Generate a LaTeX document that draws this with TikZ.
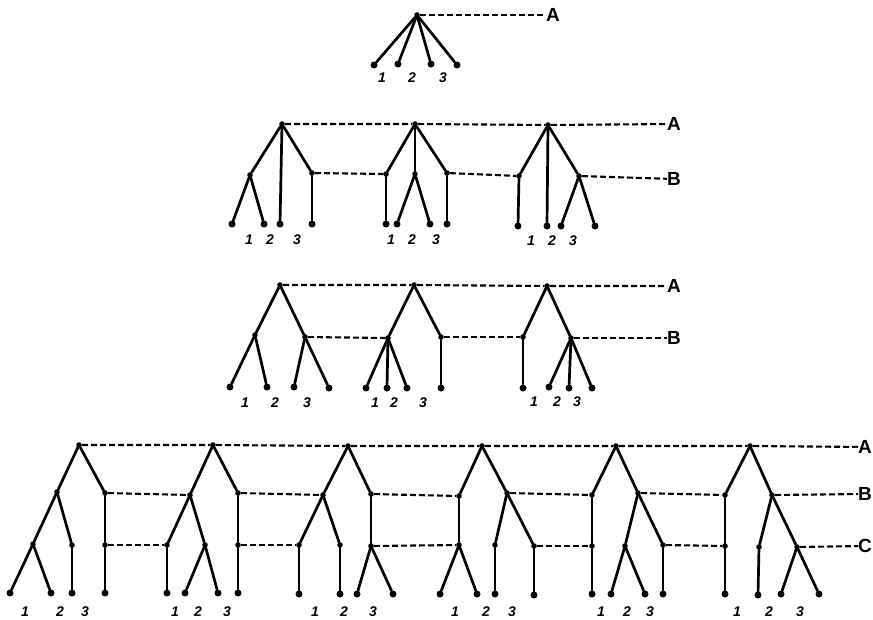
\documentclass[tikz,border=0pt]{standalone}
\usepackage{fontspec}
\setmainfont{Liberation Sans}
\begin{document}
\begin{tikzpicture}[x=1pt,y=-1pt,
  edge/.style={line width=2.7pt,line cap=round},
  dsh/.style={line width=2.1pt,dash pattern=on 6pt off 3pt},
  leaf/.style={circle,fill=black,inner sep=0pt,minimum size=7pt},
  inner/.style={circle,fill=black,inner sep=0pt,minimum size=5.6pt},
  num/.style={font=\bfseries\itshape\fontsize{14}{14}\selectfont,inner sep=0pt},
  lvl/.style={font=\bfseries\fontsize{19}{19}\selectfont,inner sep=0pt,anchor=west}]
\useasboundingbox (0,0) rectangle (873,619);
\fill[white] (0,0) rectangle (873,619);

% ---------------- Panel 1 ----------------
\node[inner] (r1) at (417,15) {};
\node[leaf] (p1a) at (374,65) {};
\node[leaf] (p1b) at (398,64) {};
\node[leaf] (p1c) at (431,64) {};
\node[leaf] (p1d) at (457,65) {};
\foreach \l in {p1a,p1b,p1c,p1d} \draw[edge] (r1) -- (\l);
\node[num] (n11) at (382,78) {1};
\node[num] (n12) at (412,78) {2};
\node[num] (n13) at (443,78) {3};
\node[lvl] (A1) at (546,15) {A};
\draw[dsh] (r1) -- (A1);

% ---------------- Panel 2 ----------------
\node[inner] (q1) at (282,124) {};
\node[inner] (q1L) at (250,175) {};
\node[inner] (q1R) at (312,173) {};
\node[leaf] (q1La) at (232,224) {};
\node[leaf] (q1Lb) at (264,224) {};
\node[leaf] (q1M) at (280,224) {};
\node[leaf] (q1Ra) at (312,224) {};
\draw[edge] (q1) -- (q1L); \draw[edge] (q1) -- (q1M); \draw[edge] (q1) -- (q1R);
\draw[edge] (q1L) -- (q1La); \draw[edge] (q1L) -- (q1Lb); \draw[edge] (q1R) -- (q1Ra);

\node[inner] (q2) at (415,124) {};
\node[inner] (q2L) at (386,174) {};
\node[inner] (q2M) at (415,174) {};
\node[inner] (q2R) at (447,173) {};
\node[leaf] (q2La) at (386,224) {};
\node[leaf] (q2Ma) at (397,224) {};
\node[leaf] (q2Mb) at (430,224) {};
\node[leaf] (q2Ra) at (447,224) {};
\draw[edge] (q2) -- (q2L); \draw[edge] (q2) -- (q2M); \draw[edge] (q2) -- (q2R);
\draw[edge] (q2L) -- (q2La); \draw[edge] (q2M) -- (q2Ma); \draw[edge] (q2M) -- (q2Mb); \draw[edge] (q2R) -- (q2Ra);

\node[inner] (q3) at (548,125) {};
\node[inner] (q3L) at (519,176) {};
\node[inner] (q3R) at (579,176) {};
\node[leaf] (q3La) at (518,226) {};
\node[leaf] (q3M) at (547,226) {};
\node[leaf] (q3Ra) at (561,226) {};
\node[leaf] (q3Rb) at (595,226) {};
\draw[edge] (q3) -- (q3L); \draw[edge] (q3) -- (q3M); \draw[edge] (q3) -- (q3R);
\draw[edge] (q3L) -- (q3La); \draw[edge] (q3R) -- (q3Ra); \draw[edge] (q3R) -- (q3Rb);

\node[num] (n21) at (249,240) {1};
\node[num] (n22) at (270,240) {2};
\node[num] (n23) at (297,240) {3};
\node[num] (n24) at (391,240) {1};
\node[num] (n25) at (412,240) {2};
\node[num] (n26) at (436,240) {3};
\node[num] (n27) at (531,241) {1};
\node[num] (n28) at (552,241) {2};
\node[num] (n29) at (573,241) {3};

\node[lvl] (A2) at (667,124) {A};
\node[lvl] (B2) at (667,179) {B};
\draw[dsh] (q1) -- (q2) -- (q3) -- (A2);
\draw[dsh] (q1R) -- (q2L);
\draw[dsh] (q2R) -- (q3L);
\draw[dsh] (q3R) -- (B2);

% ---------------- Panel 3 ----------------
\node[inner] (s1) at (280,285) {};
\node[inner] (s1L) at (255,335) {};
\node[inner] (s1R) at (305,337) {};
\node[leaf] (s1La) at (230,387) {};
\node[leaf] (s1Lb) at (267,387) {};
\node[leaf] (s1Ra) at (294,387) {};
\node[leaf] (s1Rb) at (329,388) {};
\draw[edge] (s1) -- (s1L); \draw[edge] (s1) -- (s1R);
\draw[edge] (s1L) -- (s1La); \draw[edge] (s1L) -- (s1Lb);
\draw[edge] (s1R) -- (s1Ra); \draw[edge] (s1R) -- (s1Rb);

\node[inner] (s2) at (414,285) {};
\node[inner] (s2L) at (388,338) {};
\node[inner] (s2R) at (441,337) {};
\node[leaf] (s2La) at (366,388) {};
\node[leaf] (s2Lb) at (387,388) {};
\node[leaf] (s2Lc) at (407,388) {};
\node[leaf] (s2Ra) at (441,388) {};
\draw[edge] (s2) -- (s2L); \draw[edge] (s2) -- (s2R);
\draw[edge] (s2L) -- (s2La); \draw[edge] (s2L) -- (s2Lb); \draw[edge] (s2L) -- (s2Lc);
\draw[edge] (s2R) -- (s2Ra);

\node[inner] (s3) at (547,286) {};
\node[inner] (s3L) at (523,337) {};
\node[inner] (s3R) at (571,338) {};
\node[leaf] (s3La) at (523,388) {};
\node[leaf] (s3Ra) at (549,387) {};
\node[leaf] (s3Rb) at (569,388) {};
\node[leaf] (s3Rc) at (592,388) {};
\draw[edge] (s3) -- (s3L); \draw[edge] (s3) -- (s3R);
\draw[edge] (s3L) -- (s3La);
\draw[edge] (s3R) -- (s3Ra); \draw[edge] (s3R) -- (s3Rb); \draw[edge] (s3R) -- (s3Rc);

\node[num] (n31) at (245,403) {1};
\node[num] (n32) at (275,403) {2};
\node[num] (n33) at (307,403) {3};
\node[num] (n34) at (375,403) {1};
\node[num] (n35) at (394,403) {2};
\node[num] (n36) at (423,403) {3};
\node[num] (n37) at (534,402) {1};
\node[num] (n38) at (557,402) {2};
\node[num] (n39) at (577,402) {3};

\node[lvl] (A3) at (667,286) {A};
\node[lvl] (B3) at (667,338) {B};
\draw[dsh] (s1) -- (s2) -- (s3) -- (A3);
\draw[dsh] (s1R) -- (s2L);
\draw[dsh] (s2R) -- (s3L);
\draw[dsh] (s3R) -- (B3);

% ---------------- Panel 4 ----------------
% tree 1
\node[inner] (u1) at (79,445) {};
\node[inner] (u1L) at (57,492) {};
\node[inner] (u1R) at (105,493) {};
\node[inner] (u1LL) at (33,544) {};
\node[inner] (u1LR) at (72,545) {};
\node[inner] (u1RC) at (105,545) {};
\node[leaf] (u1a) at (10,593) {};
\node[leaf] (u1b) at (51,593) {};
\node[leaf] (u1c) at (72,593) {};
\node[leaf] (u1d) at (105,593) {};
\draw[edge] (u1) -- (u1L); \draw[edge] (u1) -- (u1R);
\draw[edge] (u1L) -- (u1LL); \draw[edge] (u1L) -- (u1LR); \draw[edge] (u1R) -- (u1RC);
\draw[edge] (u1LL) -- (u1a); \draw[edge] (u1LL) -- (u1b); \draw[edge] (u1LR) -- (u1c); \draw[edge] (u1RC) -- (u1d);
% tree 2
\node[inner] (u2) at (213,445) {};
\node[inner] (u2L) at (190,495) {};
\node[inner] (u2R) at (238,493) {};
\node[inner] (u2LL) at (167,545) {};
\node[inner] (u2LR) at (205,545) {};
\node[inner] (u2RC) at (238,545) {};
\node[leaf] (u2a) at (167,593) {};
\node[leaf] (u2b) at (185,593) {};
\node[leaf] (u2c) at (218,593) {};
\node[leaf] (u2d) at (238,593) {};
\draw[edge] (u2) -- (u2L); \draw[edge] (u2) -- (u2R);
\draw[edge] (u2L) -- (u2LL); \draw[edge] (u2L) -- (u2LR); \draw[edge] (u2R) -- (u2RC);
\draw[edge] (u2LL) -- (u2a); \draw[edge] (u2LR) -- (u2b); \draw[edge] (u2LR) -- (u2c); \draw[edge] (u2RC) -- (u2d);
% tree 3
\node[inner] (u3) at (348,446) {};
\node[inner] (u3L) at (323,495) {};
\node[inner] (u3R) at (371,494) {};
\node[inner] (u3LL) at (299,545) {};
\node[inner] (u3LR) at (340,545) {};
\node[inner] (u3RC) at (371,546) {};
\node[leaf] (u3a) at (299,594) {};
\node[leaf] (u3b) at (340,594) {};
\node[leaf] (u3c) at (357,594) {};
\node[leaf] (u3d) at (393,594) {};
\draw[edge] (u3) -- (u3L); \draw[edge] (u3) -- (u3R);
\draw[edge] (u3L) -- (u3LL); \draw[edge] (u3L) -- (u3LR); \draw[edge] (u3R) -- (u3RC);
\draw[edge] (u3LL) -- (u3a); \draw[edge] (u3LR) -- (u3b); \draw[edge] (u3RC) -- (u3c); \draw[edge] (u3RC) -- (u3d);
% tree 4
\node[inner] (u4) at (482,446) {};
\node[inner] (u4L) at (459,496) {};
\node[inner] (u4R) at (507,493) {};
\node[inner] (u4LC) at (459,545) {};
\node[inner] (u4RL) at (495,545) {};
\node[inner] (u4RR) at (534,546) {};
\node[leaf] (u4a) at (440,594) {};
\node[leaf] (u4b) at (477,594) {};
\node[leaf] (u4c) at (495,594) {};
\node[leaf] (u4d) at (534,595) {};
\draw[edge] (u4) -- (u4L); \draw[edge] (u4) -- (u4R);
\draw[edge] (u4L) -- (u4LC); \draw[edge] (u4R) -- (u4RL); \draw[edge] (u4R) -- (u4RR);
\draw[edge] (u4LC) -- (u4a); \draw[edge] (u4LC) -- (u4b); \draw[edge] (u4RL) -- (u4c); \draw[edge] (u4RR) -- (u4d);
% tree 5
\node[inner] (u5) at (616,446) {};
\node[inner] (u5L) at (592,495) {};
\node[inner] (u5R) at (638,493) {};
\node[inner] (u5LC) at (592,546) {};
\node[inner] (u5RL) at (625,546) {};
\node[inner] (u5RR) at (663,545) {};
\node[leaf] (u5a) at (592,594) {};
\node[leaf] (u5b) at (611,594) {};
\node[leaf] (u5c) at (645,594) {};
\node[leaf] (u5d) at (663,594) {};
\draw[edge] (u5) -- (u5L); \draw[edge] (u5) -- (u5R);
\draw[edge] (u5L) -- (u5LC); \draw[edge] (u5R) -- (u5RL); \draw[edge] (u5R) -- (u5RR);
\draw[edge] (u5LC) -- (u5a); \draw[edge] (u5RL) -- (u5b); \draw[edge] (u5RL) -- (u5c); \draw[edge] (u5RR) -- (u5d);
% tree 6
\node[inner] (u6) at (750,446) {};
\node[inner] (u6L) at (725,495) {};
\node[inner] (u6R) at (772,495) {};
\node[inner] (u6LC) at (725,546) {};
\node[inner] (u6RL) at (759,547) {};
\node[inner] (u6RR) at (797,547) {};
\node[leaf] (u6a) at (725,594) {};
\node[leaf] (u6b) at (758,595) {};
\node[leaf] (u6c) at (781,594) {};
\node[leaf] (u6d) at (819,594) {};
\draw[edge] (u6) -- (u6L); \draw[edge] (u6) -- (u6R);
\draw[edge] (u6L) -- (u6LC); \draw[edge] (u6R) -- (u6RL); \draw[edge] (u6R) -- (u6RR);
\draw[edge] (u6LC) -- (u6a); \draw[edge] (u6RL) -- (u6b); \draw[edge] (u6RR) -- (u6c); \draw[edge] (u6RR) -- (u6d);

% labels
\node[num] (n41) at (25,612) {1};
\node[num] (n42) at (60,612) {2};
\node[num] (n43) at (85,612) {3};
\node[num] (n44) at (175,612) {1};
\node[num] (n45) at (198,612) {2};
\node[num] (n46) at (227,612) {3};
\node[num] (n47) at (315,612) {1};
\node[num] (n48) at (344,612) {2};
\node[num] (n49) at (373,612) {3};
\node[num] (n4a) at (455,612) {1};
\node[num] (n4b) at (486,612) {2};
\node[num] (n4c) at (512,612) {3};
\node[num] (n4d) at (601,612) {1};
\node[num] (n4e) at (627,612) {2};
\node[num] (n4f) at (650,612) {3};
\node[num] (n4g) at (737,612) {1};
\node[num] (n4h) at (769,612) {2};
\node[num] (n4i) at (800,612) {3};

\node[lvl] (A4) at (858,447) {A};
\node[lvl] (B4) at (858,494) {B};
\node[lvl] (C4) at (858,546) {C};
\draw[dsh] (u1) -- (u2) -- (u3) -- (u4) -- (u5) -- (u6) -- (A4);
\draw[dsh] (u1R) -- (u2L);
\draw[dsh] (u2R) -- (u3L);
\draw[dsh] (u3R) -- (u4L);
\draw[dsh] (u4R) -- (u5L);
\draw[dsh] (u5R) -- (u6L);
\draw[dsh] (u6R) -- (B4);
\draw[dsh] (u1RC) -- (u2LL);
\draw[dsh] (u2RC) -- (u3LL);
\draw[dsh] (u3RC) -- (u4LC);
\draw[dsh] (u4RR) -- (u5LC);
\draw[dsh] (u5RR) -- (u6LC);
\draw[dsh] (u6RR) -- (C4);
\end{tikzpicture}
\end{document}
